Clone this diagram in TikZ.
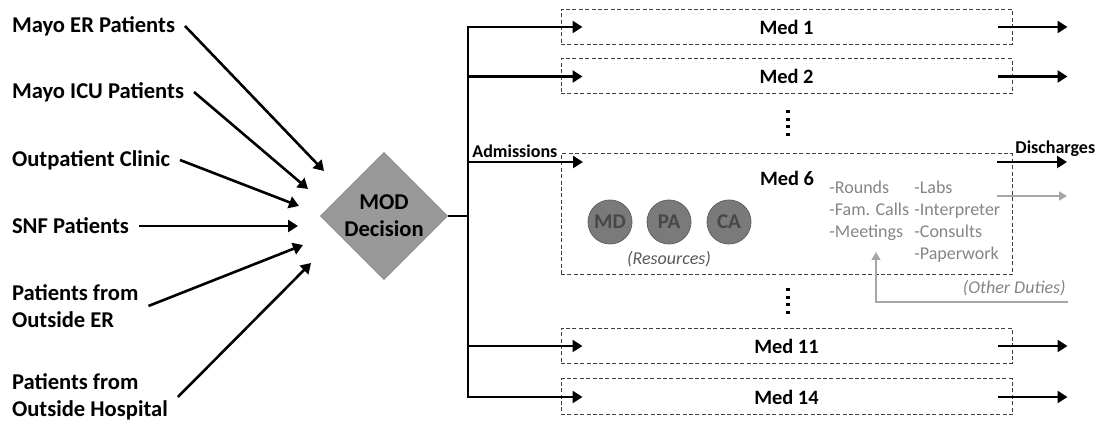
\documentclass[tikz,border=0pt]{standalone}
\usepackage{fontspec}
\setmainfont{Carlito}
\usepackage{tikz}
\usetikzlibrary{arrows.meta,positioning,shapes.geometric}

\begin{document}
\begin{tikzpicture}[x=0.5pt, y=-0.5pt,
    every node/.style={font=\fontsize{11.3}{13.5}\selectfont\bfseries},
    src/.style={anchor=west, align=left, inner sep=0pt, outer sep=5pt},
    decide/.style={diamond, draw=black!50, fill=black!40, minimum width=63.5pt, minimum height=63.5pt, inner sep=0pt, align=center},
    ward/.style={draw=black!75, dash pattern=on 2pt off 1.2pt, line width=0.5pt, minimum width=225.5pt, minimum height=17.5pt, inner sep=0pt, font=\fontsize{10.2}{12}\selectfont\bfseries},
    res/.style={circle, draw=black!62, fill=black!52, text=black!72, minimum size=22pt, inner sep=0pt, font=\fontsize{10.5}{12}\selectfont\bfseries},
    duty/.style={text=black!48, font=\fontsize{9}{11}\selectfont, align=left, anchor=north west, inner sep=0pt},
    tag/.style={font=\fontsize{9}{11}\selectfont\bfseries, inner sep=0pt},
    note/.style={font=\fontsize{9}{11}\selectfont\itshape, inner sep=0pt},
    arr/.style={-{Triangle[length=5pt,width=6pt]}, line width=1.3pt},
    garr/.style={-{Triangle[length=4pt,width=4.5pt]}, line width=0.8pt, draw=black!35},
    dots/.style={line width=1.6pt, dash pattern=on 1.6pt off 2.2pt},
]
\useasboundingbox (0,0) rectangle (1098,421);

% Patient sources (left column)
\node[src] (er) at (2,26) {Mayo ER Patients};
\node[src] (icu) at (2,92) {Mayo ICU Patients};
\node[src] (clinic) at (2,160) {Outpatient Clinic};
\node[src] (snf) at (2,226) {SNF Patients};
\node[src] (oer) at (2,306) {Patients from\\Outside ER};
\node[src] (ohosp) at (2,397) {Patients from\\Outside Hospital};

% Decision diamond
\node[decide] (mod) at (384,216) {MOD\\Decision};
\coordinate (inA) at (324,171);
\coordinate (inB) at (308,189);
\coordinate (inC) at (299,206);
\coordinate (inD) at (298,226);
\coordinate (inE) at (303,245);
\coordinate (inF) at (311,263);

% Med teams (dashed boxes)
\node[ward] (med1) at (786.5,27) {Med 1};
\node[ward] (med2) at (786.5,76.5) {Med 2};
\node[ward, minimum height=60.5pt] (med6) at (786.5,214.5) {};
\node[ward] (med11) at (786.5,346) {Med 11};
\node[ward, minimum height=18pt] (med14) at (786.5,397) {Med 14};
\node[ward, draw=none] (med6lbl) at (787,178) {Med 6};

% Inside Med 6: resources and other duties
\node[res] (md) at (610,222) {MD};
\node[res] (pa) at (669,222) {PA};
\node[res] (ca) at (729,222) {CA};
\node[note, text=black!65] (resnote) at (669,259) {(Resources)};
\node[duty] (tasksA) at (829,181) {-Rounds\\-Fam. Calls\\-Meetings};
\node[duty] (tasksB) at (914,181) {-Labs\\-Interpreter\\-Consults\\-Paperwork};
\node[note, text=black!48, anchor=east] (other) at (1066,288) {(Other Duties)};

% Flow labels
\node[tag, anchor=west] (admlbl) at (472,151) {Admissions};
\node[tag, anchor=west] (dislbl) at (1015,149) {Discharges};

\coordinate (bus) at (468,216);
\coordinate (adm) at (583,162);
\coordinate (disin) at (997,162);
\coordinate (dis) at (1067,162);
\coordinate (othin) at (997,196);
\coordinate (oth) at (1067,196);
\coordinate (dutyin) at (1068,302);
\coordinate (dutyend) at (876,252);

% Arrivals into the decision
\draw[arr] (er.east) -- (inA);
\draw[arr] (icu.east) -- (inB);
\draw[arr] (clinic.east) -- (inC);
\draw[arr] (snf.east) -- (inD);
\draw[arr] (oer.east) -- (inE);
\draw[arr] (ohosp.east) -- (inF);

% Admissions bus
\draw[line width=1.3pt] (mod.east) -- (bus);
\draw[line width=1.3pt, line cap=rect] (bus |- med1.west) -- (bus |- med14.west);
\draw[arr] (bus |- med1.west) -- ([xshift=11pt]med1.west);
\draw[arr] (bus |- med2.west) -- ([xshift=11pt]med2.west);
\draw[arr] (bus |- adm) -- (adm);
\draw[arr] (bus |- med11.west) -- ([xshift=11pt]med11.west);
\draw[arr] (bus |- med14.west) -- ([xshift=11pt]med14.west);

% Discharges
\draw[arr] ([xshift=-7.5pt]med1.east) -- ([xshift=27.5pt]med1.east);
\draw[arr] ([xshift=-7.5pt]med2.east) -- ([xshift=27.5pt]med2.east);
\draw[arr] (disin) -- (dis);
\draw[arr] ([xshift=-7.5pt]med11.east) -- ([xshift=27.5pt]med11.east);
\draw[arr] ([xshift=-7.5pt]med14.east) -- ([xshift=27.5pt]med14.east);

% Other duties (gray)
\draw[garr] (othin) -- (oth);
\draw[garr] (dutyin) -| (dutyend);

% Skipped teams
\draw[dots] (788,110) -- (788,139);
\draw[dots] (788,288) -- (788,317);

\end{tikzpicture}
\end{document}
